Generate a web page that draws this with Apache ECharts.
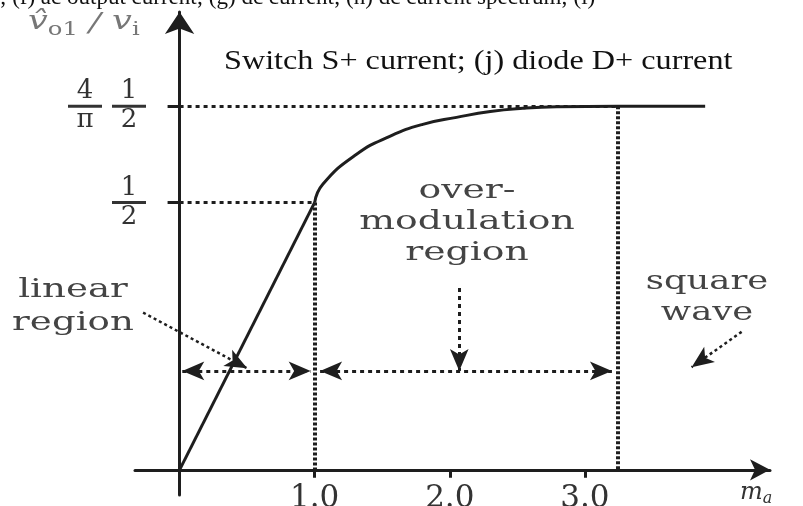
<!DOCTYPE html>
<html>
<head>
<meta charset="utf-8">
<script src="https://cdn.jsdelivr.net/npm/echarts@6/dist/echarts.min.js"></script>
<style>
  html, body { margin: 0; padding: 0; background: #fff; }
  #chart { width: 803px; height: 506px; }
</style>
</head>
<body>
<div id="chart"></div>
<script>
// values (vertical scale is schematic, as in the picture)
var maTicks = [1.0, 2.0, 3.0];
var levelV = [0.5, 0.68];            // 1/2 and 4/π·1/2 as drawn
var linearMa = [0, 1.0];
var linearV = [0, 0.5];
var overMa = [1.0, 1.06, 1.31, 1.56, 1.80, 2.05, 2.30, 2.54, 2.79, 3.24, 3.89];
var overV = [0.5, 0.534, 0.590, 0.624, 0.646, 0.659, 0.670, 0.676, 0.679, 0.68, 0.68];
var squareMa = 3.24;                 // start of square-wave operation
var rowV = 0.185;                    // height of the region arrows
var rowEndMa = 4.65;

var ink = '#1e1e1e';
var serif = 'DejaVu Serif';

function pairs(xs, ys) {
    return xs.map(function(x, i) { return [x, ys[i]]; });
}

var chart = echarts.init(document.getElementById('chart'));

var dotted = {color: ink, width: 3, type: [4, 4]};
var dense = {color: ink, width: 4, type: [3, 2]};

chart.setOption({
    animation: false,
    grid: {left: 135, right: 33, top: 12, bottom: 11, containLabel: false, outerBoundsMode: 'none'},
    xAxis: {
        type: 'value',
        min: -0.33,
        max: 4.37,
        splitLine: {show: false},
        axisLine: {
            onZero: true,
            symbol: ['none', 'arrow'],
            symbolSize: [16, 20],
            lineStyle: {color: ink, width: 3}
        },
        axisTick: {customValues: maTicks, length: 8, lineStyle: {color: ink, width: 3}},
        axisLabel: {
            customValues: maTicks,
            formatter: function(v) { return v.toFixed(1); },
            fontFamily: serif,
            fontSize: 31,
            color: '#333',
            // labels are placed from the grid edge, 25px below the zero line
            margin: -12
        }
    },
    yAxis: {
        type: 'value',
        min: -0.047,
        max: 0.856,
        splitLine: {show: false},
        axisLine: {
            onZero: true,
            symbol: ['none', 'arrow'],
            symbolSize: [22, 22],
            lineStyle: {color: ink, width: 3}
        },
        axisTick: {customValues: levelV, length: 12, lineStyle: {color: ink, width: 3}},
        axisLabel: {
            customValues: levelV,
            margin: -11,
            formatter: function(v) {
                if (v === levelV[0]) return '{n|1}\n{bar| }\n{n|2}';
                return '{n|4}{g| }{n|1}\n{bar| }{g2| }{bar| }\n{n|π}{g| }{n|2}';
            },
            rich: {
                n: {fontFamily: serif, fontSize: 26, lineHeight: 26, width: 34, align: 'center', color: '#333'},
                g: {fontSize: 12, width: 10},
                g2: {fontSize: 1, lineHeight: 3, height: 3, width: 10},
                bar: {fontSize: 1, lineHeight: 3, height: 3, width: 34, backgroundColor: '#333'}
            }
        }
    },
    series: [
        {
            type: 'line',
            data: pairs(linearMa, linearV),
            symbol: 'none',
            silent: true,
            lineStyle: {color: ink, width: 3}
        },
        {
            type: 'line',
            data: pairs(overMa, overV),
            symbol: 'none',
            smooth: 0.5,
            silent: true,
            clip: false,
            lineStyle: {color: ink, width: 3},
            markLine: {
                silent: true,
                symbol: 'none',
                label: {show: false},
                lineStyle: dotted,
                data: [
                    [{coord: [0, levelV[1]]}, {coord: [squareMa, levelV[1]]}],
                    [{coord: [0, levelV[0]]}, {coord: [linearMa[1], levelV[0]]}],
                    [{coord: [linearMa[1], levelV[0]], lineStyle: dense}, {coord: [linearMa[1], 0]}],
                    [{coord: [squareMa, levelV[1]], lineStyle: dense}, {coord: [squareMa, 0]}]
                ]
            }
        },
        {
            // region arrows and pointers
            type: 'line',
            data: [],
            clip: false,
            markLine: {
                silent: true,
                symbolSize: [14, 22],
                label: {show: false},
                lineStyle: dotted,
                data: [
                    [{coord: [0.02, rowV], symbol: 'arrow'}, {coord: [0.97, rowV], symbol: 'arrow'}],
                    [{coord: [1.04, rowV], symbol: 'arrow'}, {coord: [3.2, rowV], symbol: 'arrow'}],
                    [{coord: [3.29, rowV], symbol: 'arrow'}, {coord: [rowEndMa, rowV], symbol: 'none'}],
                    [{coord: [2.07, 0.34], symbol: 'none'}, {coord: [2.07, rowV], symbol: 'arrow'}],
                    [{coord: [-0.27, 0.294], symbol: 'none', lineStyle: {width: 2.5, type: [3, 3]}}, {coord: [0.5, 0.19], symbol: 'arrow'}],
                    [{coord: [4.16, 0.258], symbol: 'none', lineStyle: {width: 2.5, type: [3, 3]}}, {coord: [3.79, 0.192], symbol: 'arrow'}]
                ]
            }
        }
    ],
    graphic: [
        {
            type: 'text', x: 0, y: -2,
            style: {
                text: '; (f) ac output current; (g) dc current; (h) dc current spectrum; (i)',
                fontFamily: 'Liberation Serif', fontSize: 23, fill: '#111',
                align: 'left', verticalAlign: 'middle'
            }
        },
        {
            type: 'text', x: 224, y: 62, scaleX: 1.15,
            style: {
                text: 'Switch S+ current; (j) diode D+ current',
                fontFamily: 'Liberation Serif', fontSize: 28, fill: '#111',
                align: 'left', verticalAlign: 'middle'
            }
        },
        {
            type: 'text', x: 467, y: 222, scaleX: 1.45,
            style: {
                text: 'over-\nmodulation\nregion',
                fontFamily: serif, fontSize: 26, lineHeight: 31, fill: '#444',
                align: 'center', verticalAlign: 'middle'
            }
        },
        {
            type: 'text', x: 73, y: 307, scaleX: 1.43,
            style: {
                text: 'linear\nregion',
                fontFamily: serif, fontSize: 26, lineHeight: 33, fill: '#444',
                align: 'center', verticalAlign: 'middle'
            }
        },
        {
            type: 'text', x: 707, y: 298, scaleX: 1.36,
            style: {
                text: 'square\nwave',
                fontFamily: serif, fontSize: 26, lineHeight: 31, fill: '#444',
                align: 'center', verticalAlign: 'middle'
            }
        },
        {
            type: 'text', x: 28, y: 24, scaleX: 1.35,
            style: {
                text: '{v|v̂}{s|o1}{sl| / }{v|v}{s|i}',
                align: 'left', verticalAlign: 'middle',
                rich: {
                    v: {fontFamily: serif, fontStyle: 'italic', fontSize: 26, fill: '#777', lineHeight: 30, verticalAlign: 'top'},
                    s: {fontFamily: serif, fontSize: 18, fill: '#777', lineHeight: 30, verticalAlign: 'bottom'},
                    sl: {fontFamily: serif, fontStyle: 'italic', fontSize: 26, fill: '#777', lineHeight: 30}
                }
            }
        },
        {
            type: 'text', x: 740, y: 494,
            style: {
                text: '{m|m}{a|a}',
                align: 'left', verticalAlign: 'middle',
                rich: {
                    m: {fontFamily: serif, fontStyle: 'italic', fontSize: 24, fill: '#333', lineHeight: 26, verticalAlign: 'top'},
                    a: {fontFamily: serif, fontStyle: 'italic', fontSize: 16, fill: '#333', lineHeight: 26, verticalAlign: 'bottom'}
                }
            }
        }
    ]
});
</script>
</body>
</html>
